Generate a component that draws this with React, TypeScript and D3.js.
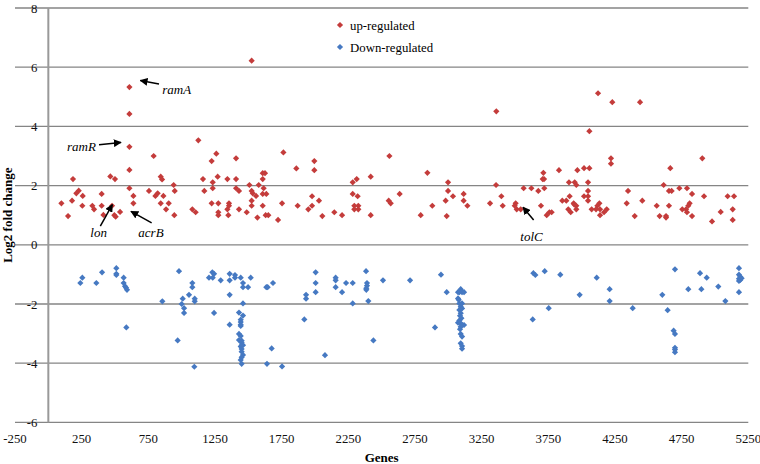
import React from "react";
import * as d3 from "d3";

// Up-regulated genes: [gene index, log2 fold change]
const upRegulated: [number, number][] = [
  [98, 1.4], [148, 0.97], [178, 1.49], [185, 2.22], [210, 1.74], [228, 1.83], [255, 1.32], [258, 1.65],
  [330, 1.32], [343, 1.2], [400, 1.72], [400, 1.32], [413, 1.01], [465, 2.31], [478, 1.32], [495, 1.0],
  [500, 2.22], [505, 0.95], [538, 1.11], [608, 5.33], [608, 4.42], [608, 3.31], [608, 2.53], [608, 1.91],
  [638, 1.65], [638, 1.4], [755, 1.82], [790, 3.0], [803, 1.65], [820, 1.74], [843, 2.3], [853, 2.21],
  [843, 1.4], [863, 1.65], [883, 1.2], [903, 1.4], [940, 2.02], [948, 1.82], [945, 1.0], [1080, 1.2],
  [1105, 1.1], [1125, 3.53], [1160, 2.22], [1170, 1.82], [1225, 2.83], [1225, 1.4], [1233, 2.11], [1233, 1.91],
  [1260, 3.08], [1270, 2.3], [1275, 1.4], [1275, 1.1], [1275, 1.0], [1343, 2.22], [1343, 1.2], [1350, 1.0],
  [1355, 1.4], [1355, 1.32], [1408, 2.92], [1408, 2.22], [1408, 1.91], [1430, 1.82], [1430, 1.2], [1488, 1.1],
  [1508, 2.02], [1525, 6.22], [1525, 1.82], [1533, 1.74], [1558, 1.65], [1525, 1.49], [1525, 1.32], [1568, 0.92],
  [1578, 2.02], [1608, 2.42], [1625, 2.42], [1608, 2.22], [1615, 1.91], [1608, 1.72], [1635, 1.72], [1608, 1.32],
  [1630, 1.0], [1650, 1.0], [1723, 0.84], [1763, 3.12], [1753, 1.4], [1860, 2.58], [1870, 1.32], [1995, 2.83],
  [1995, 2.52], [1978, 1.64], [1978, 1.32], [1950, 1.2], [2030, 1.49], [2055, 0.97], [2145, 1.1], [2203, 1.0],
  [2283, 2.11], [2313, 2.22], [2283, 1.72], [2320, 1.64], [2295, 1.32], [2325, 1.32], [2295, 1.2], [2325, 1.2],
  [2418, 2.3], [2418, 1.0], [2558, 3.0], [2553, 1.49], [2568, 1.4], [2635, 1.72], [2793, 1.0], [2843, 2.43],
  [2880, 1.32], [2998, 2.11], [2998, 1.82], [3035, 1.64], [2980, 1.49], [2988, 0.97], [3115, 1.72], [3115, 1.49],
  [3143, 1.32], [3360, 4.51], [3358, 2.02], [3398, 1.64], [3313, 1.4], [3408, 1.32], [3505, 1.4], [3498, 1.32],
  [3513, 1.2], [3543, 1.2], [3565, 1.91], [3623, 1.91], [3675, 1.82], [3713, 2.43], [3708, 2.22], [3718, 2.22],
  [3720, 1.91], [3695, 1.32], [3738, 1.0], [3758, 1.1], [3775, 1.1], [3830, 2.52], [3855, 1.49], [3885, 1.49],
  [3905, 2.11], [3900, 1.2], [3948, 2.11], [3960, 2.02], [4048, 2.11], [4048, 1.82], [4018, 1.64], [4048, 1.64],
  [3910, 1.64], [4048, 1.49], [3940, 1.4], [3960, 1.32], [3945, 1.36], [3960, 1.2], [3918, 1.1], [4075, 1.2],
  [4118, 1.32], [4133, 1.4], [4108, 1.2], [4138, 1.2], [4138, 1.0], [4168, 1.1], [4188, 1.2], [4220, 2.92],
  [4220, 2.74], [3968, 2.52], [4018, 2.59], [4058, 2.59], [4058, 3.84], [4123, 5.12], [4230, 4.82], [4438, 4.82],
  [4348, 1.82], [4338, 1.4], [4455, 1.49], [4398, 0.97], [4563, 1.32], [4615, 2.02], [4665, 2.59], [4655, 1.82],
  [4675, 1.82], [4655, 1.32], [4585, 0.97], [4633, 0.97], [4633, 0.92], [4733, 1.91], [4790, 1.91], [4828, 1.72],
  [4755, 1.2], [4783, 1.2], [4790, 1.1], [4810, 1.4], [4800, 1.32], [4828, 0.97], [4918, 1.64], [4905, 2.92],
  [4978, 0.79], [5043, 1.11], [5095, 1.64], [5143, 1.64], [5133, 1.2], [5133, 0.84],
];

// Down-regulated genes: [gene index, log2 fold change]
const downRegulated: [number, number][] = [
  [240, -1.29], [255, -1.11], [360, -1.29], [403, -0.93], [510, -0.79], [510, -0.98], [510, -1.02], [565, -1.11],
  [565, -1.29], [575, -1.4], [583, -1.45], [590, -1.52], [585, -2.79], [855, -1.91], [980, -0.89], [970, -3.23],
  [1008, -1.82], [1000, -2.0], [1018, -2.14], [1018, -2.3], [1055, -1.69], [1080, -1.29], [1080, -1.43], [1098, -1.82],
  [1098, -1.91], [1095, -4.12], [1205, -1.11], [1233, -1.11], [1230, -0.93], [1243, -0.98], [1243, -2.3], [1293, -1.2],
  [1360, -0.98], [1360, -1.2], [1400, -1.02], [1400, -1.11], [1443, -1.11], [1518, -1.11], [1460, -1.29], [1460, -1.43],
  [1498, -1.43], [1360, -1.69], [1635, -1.43], [1645, -1.43], [1685, -1.29], [1460, -1.98], [1360, -2.7], [1430, -2.29],
  [1460, -2.39], [1443, -2.53], [1443, -2.61], [1443, -2.7], [1443, -2.74], [1430, -3.01], [1443, -3.08], [1430, -3.22],
  [1450, -3.24], [1450, -3.31], [1450, -3.39], [1460, -3.39], [1443, -3.44], [1450, -3.52], [1450, -3.61], [1460, -3.72],
  [1450, -3.8], [1443, -3.89], [1450, -4.02], [1675, -3.5], [1640, -4.02], [1753, -4.11], [1920, -2.52], [1933, -1.69],
  [1933, -1.82], [2005, -0.93], [2005, -1.29], [2005, -1.6], [2075, -3.73], [2155, -1.11], [2155, -1.2], [2155, -1.43],
  [2203, -1.6], [2233, -1.29], [2283, -1.29], [2283, -1.98], [2383, -0.89], [2390, -1.29], [2390, -1.38], [2385, -1.47],
  [2385, -1.52], [2400, -1.9], [2438, -3.23], [2510, -1.2], [2713, -1.2], [2945, -1.01], [2988, -1.6], [2900, -2.79],
  [3093, -1.5], [3073, -1.6], [3083, -1.6], [3103, -1.6], [3118, -1.6], [3073, -1.81], [3078, -1.86], [3083, -1.98],
  [3103, -1.98], [3093, -2.09], [3103, -2.15], [3083, -2.2], [3093, -2.31], [3088, -2.4], [3098, -2.48], [3083, -2.56],
  [3073, -2.63], [3093, -2.65], [3103, -2.71], [3118, -2.71], [3093, -2.77], [3088, -2.85], [3093, -3.01], [3103, -3.1],
  [3093, -3.33], [3103, -3.42], [3103, -3.51], [3633, -2.52], [3638, -0.96], [3653, -1.02], [3723, -0.89], [3840, -1.01],
  [3753, -2.14], [3985, -1.69], [4113, -1.11], [4210, -1.5], [4210, -1.9], [4383, -2.14], [4605, -1.69], [4645, -2.21],
  [4700, -0.83], [4690, -2.9], [4700, -3.01], [4700, -3.48], [4700, -3.54], [4700, -3.63], [4800, -1.5], [4888, -0.96],
  [4898, -1.5], [4938, -1.11], [5025, -1.41], [5078, -1.9], [5180, -0.79], [5180, -1.01], [5190, -1.08], [5180, -1.15],
  [5190, -1.19], [5180, -1.22], [5200, -1.13], [5180, -1.6],
];

const xTicks = [-250, 250, 750, 1250, 1750, 2250, 2750, 3250, 3750, 4250, 4750, 5250];
const yTicks = [-6, -4, -2, 0, 2, 4, 6, 8];

// Gene annotations: label, text anchor (data units), arrow tail and head (data units)
const annotations = [
  { label: "ramA", tx: 855, ty: 5.1, x1: 830, y1: 5.43, x2: 690, y2: 5.55 },
  { label: "ramR", tx: 140, ty: 3.17, x1: 380, y1: 3.38, x2: 545, y2: 3.46 },
  { label: "lon", tx: 315, ty: 0.26, x1: 390, y1: 0.63, x2: 480, y2: 1.36 },
  { label: "acrB", tx: 675, ty: 0.26, x1: 775, y1: 0.74, x2: 620, y2: 1.13 },
  { label: "tolC", tx: 3540, ty: 0.13, x1: 3640, y1: 0.84, x2: 3560, y2: 1.27 },
];

const UP_COLOR = "#C43C3B";
const DOWN_COLOR = "#4679C2";
const SERIF = "'Liberation Serif', 'Times New Roman', serif";

const W = 760;
const H = 464;

const x = d3.scaleLinear().domain([-250, 5250]).range([15, 748.3]);
const y = d3.scaleLinear().domain([-6, 8]).range([422.4, 8]);

const diamond = (cx: number, cy: number, r: number) =>
  `M${cx},${cy - r}L${cx + r},${cy}L${cx},${cy + r}L${cx - r},${cy}Z`;

export default function App() {
  const r = 3.1;
  return (
    <svg
      width={W}
      height={H}
      style={{ position: "absolute", left: 0, top: 0, background: "#fff" }}
      fontFamily={SERIF}
    >
      <defs>
        <marker id="ah" viewBox="0 0 10 10" refX="9" refY="5" markerWidth="8" markerHeight="8" orient="auto-start-reverse" markerUnits="userSpaceOnUse">
          <path d="M0,0L10,5L0,10Z" fill="#000" />
        </marker>
      </defs>
      {/* gridlines */}
      {yTicks.map((t) => (
        <line key={"g" + t} x1={x(-250)} x2={x(5250)} y1={y(t)} y2={y(t)} stroke="#858585" strokeWidth={1.3} />
      ))}
      {/* vertical axis at x=0 */}
      <line x1={x(0)} x2={x(0)} y1={y(8)} y2={y(-6)} stroke="#999" strokeWidth={2} />
      {/* y tick labels */}
      {yTicks.map((t) => (
        <text key={"yl" + t} x={x(0) - 11} y={y(t) + 4.5} textAnchor="end" fontSize={12.8} fill="#111">
          {t}
        </text>
      ))}
      {/* x tick labels */}
      {xTicks.map((t) => (
        <text key={"xl" + t} x={x(t)} y={y(-6) + 21} textAnchor="middle" fontSize={12.8} fill="#111">
          {t}
        </text>
      ))}
      {/* axis titles */}
      <text x={(x(-250) + x(5250)) / 2} y={462} textAnchor="middle" fontSize={13} fontWeight="bold">
        Genes
      </text>
      <text
        transform={`translate(12, ${(y(8) + y(-6)) / 2}) rotate(-90)`}
        textAnchor="middle"
        fontSize={13}
        fontWeight="bold"
      >
        Log2 fold change
      </text>
      {/* points */}
      {upRegulated.map(([gx, gy], i) => (
        <path key={"u" + i} d={diamond(x(gx), y(gy), r)} fill={UP_COLOR} />
      ))}
      {downRegulated.map(([gx, gy], i) => (
        <path key={"d" + i} d={diamond(x(gx), y(gy), r)} fill={DOWN_COLOR} />
      ))}
      {/* annotations */}
      {annotations.map((a) => (
        <g key={a.label}>
          <line x1={x(a.x1)} y1={y(a.y1)} x2={x(a.x2)} y2={y(a.y2)} stroke="#000" strokeWidth={1.5} markerEnd="url(#ah)" />
          <text x={x(a.tx)} y={y(a.ty)} fontSize={13} fontStyle="italic">
            {a.label}
          </text>
        </g>
      ))}
      {/* legend */}
      <path d={diamond(340, 25, r)} fill={UP_COLOR} />
      <text x={350} y={29.5} fontSize={12.8}>up-regulated</text>
      <path d={diamond(340, 47, r)} fill={DOWN_COLOR} />
      <text x={350} y={51.5} fontSize={12.8}>Down-regulated</text>
    </svg>
  );
}
